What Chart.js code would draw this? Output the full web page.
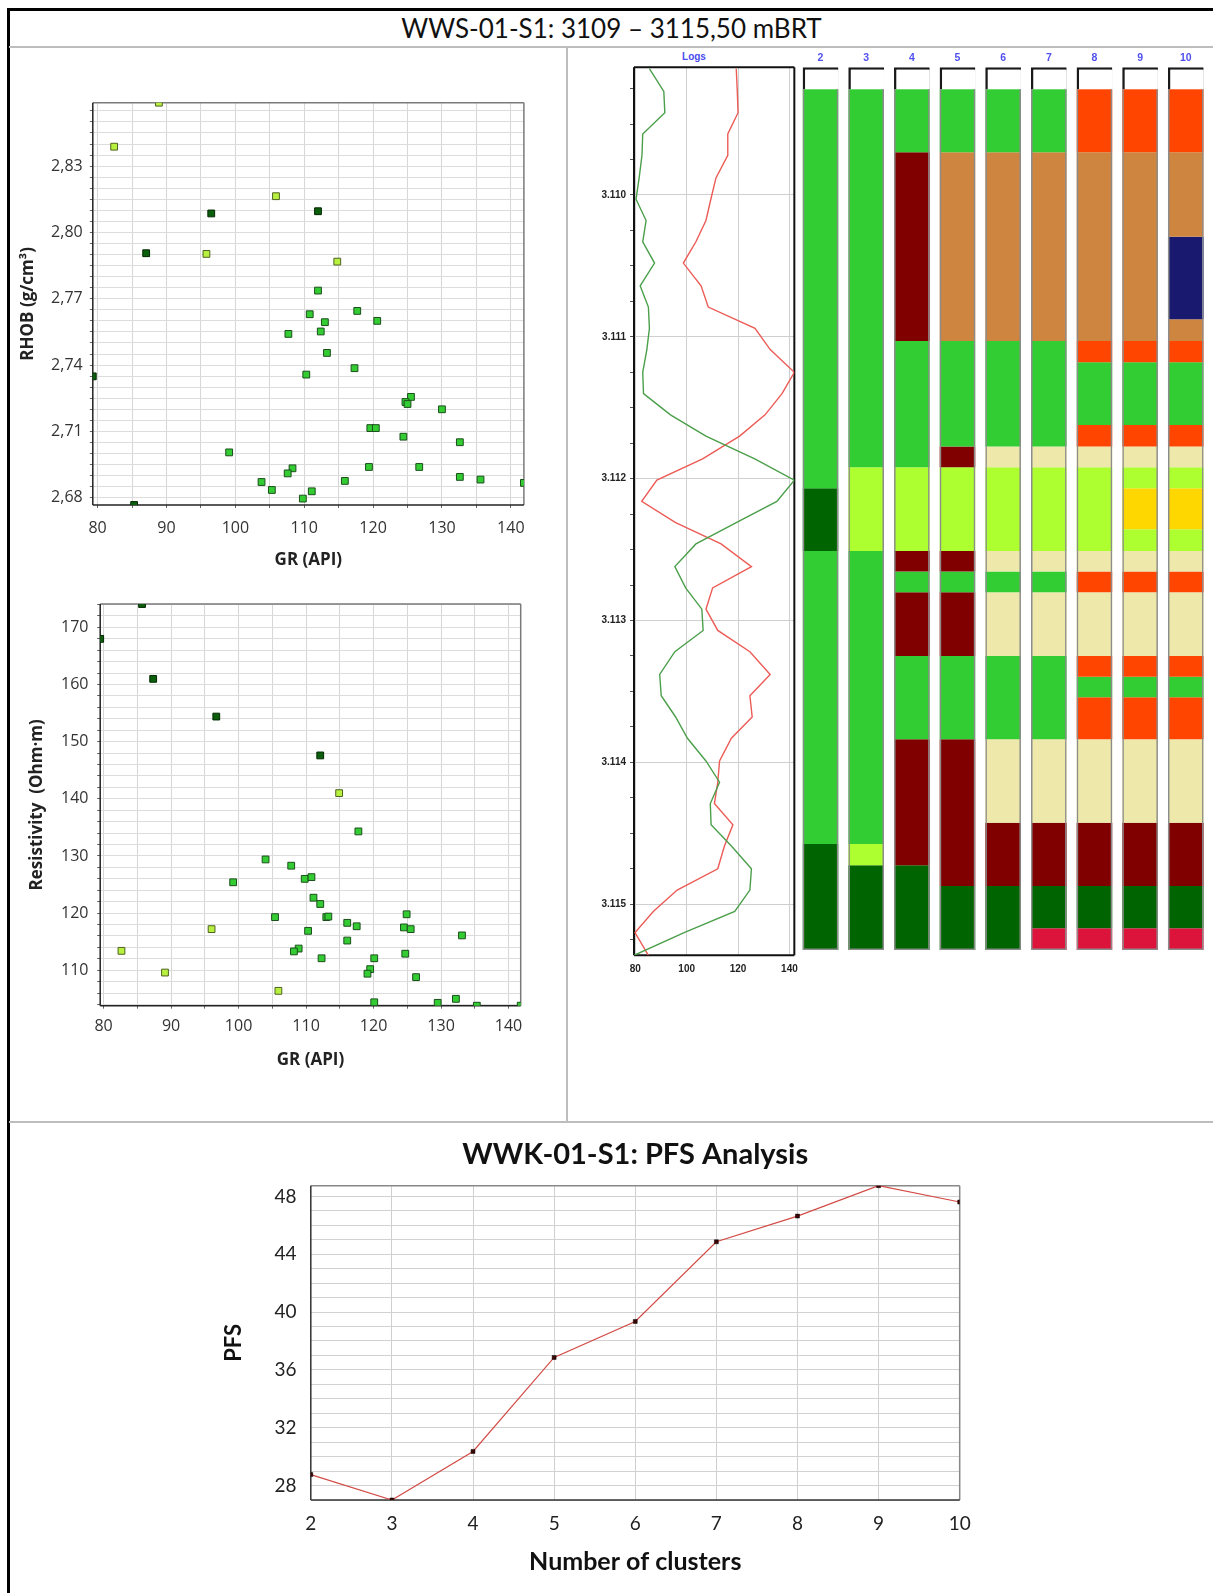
<!DOCTYPE html>
<html>
<head>
<meta charset="utf-8">
<script src="https://cdn.jsdelivr.net/npm/chart.js@4.4.1/dist/chart.umd.min.js"></script>
<style>
  body { margin: 0; background: #fff; }
  #page { position: relative; width: 1213px; height: 1593px; overflow: hidden; font-family: Lato, sans-serif; }
  .rule { position: absolute; }
  canvas { position: absolute; }
  #title { position: absolute; left: 10px; top: 10px; width: 1203px; height: 36px; line-height: 36px;
           text-align: center; font-size: 26px; color: #111; }
  #logs { position: absolute; left: 669px; top: 51px; width: 50px; text-align: center;
          font: bold 10px "Liberation Sans", sans-serif; color: #4a4aee; }
</style>
</head>
<body>
<div id="page">
  <div class="rule" style="left:7px;top:8px;width:1206px;height:3px;background:#000"></div>
  <div class="rule" style="left:7px;top:8px;width:3px;height:1585px;background:#000"></div>
  <div class="rule" style="left:9px;top:46px;width:1204px;height:2px;background:#bdbdbd"></div>
  <div class="rule" style="left:566px;top:47px;width:2px;height:1075px;background:#bdbdbd"></div>
  <div class="rule" style="left:9px;top:1121px;width:1204px;height:2px;background:#bdbdbd"></div>
  <div id="title">WWS-01-S1: 3109 – 3115,50 mBRT</div>
  <div id="logs">Logs</div>

  <canvas id="rhob" width="545" height="520" style="left:10px;top:60px"></canvas>
  <canvas id="res" width="545" height="510" style="left:10px;top:580px"></canvas>
  <canvas id="logtrack" width="226" height="960" style="left:580px;top:40px"></canvas>
  <canvas id="clusters" width="423" height="960" style="left:790px;top:40px"></canvas>
  <canvas id="pfs" width="800" height="468" style="left:200px;top:1125px"></canvas>
</div>
<script>
// ---- scatter data: [GR, value] pairs, one list per cluster ----
const rhobLime = [[112.0,2.7737],[110.8,2.7630],[117.7,2.7645],[113.0,2.7594],[120.6,2.7600],[112.4,2.7552],
  [107.7,2.7541],[113.3,2.7455],[117.3,2.7386],[110.3,2.7357],[125.5,2.7256],[124.7,2.7233],[125.0,2.7224],
  [130.0,2.7200],[119.6,2.7115],[120.4,2.7115],[124.4,2.7076],[132.6,2.7051],[99.1,2.7005],[108.3,2.6933],
  [107.6,2.6910],[119.4,2.6939],[126.7,2.6939],[103.8,2.6871],[115.9,2.6876],[132.6,2.6894],[135.6,2.6882],
  [141.9,2.6867],[105.3,2.6835],[111.1,2.6829],[109.8,2.6796]];
const rhobYellow = [[88.9,2.8587],[82.4,2.8388],[105.9,2.8164],[95.8,2.7903],[114.8,2.7868]];
const rhobDark = [[96.5,2.8086],[112.0,2.8096],[87.05,2.7906],[79.3,2.7349],[85.3,2.6767]];

const resLime = [[117.75,134.3],[104.0,129.4],[107.8,128.3],[109.8,126.0],[110.8,126.3],[99.2,125.4],
  [111.1,122.7],[112.1,121.6],[105.4,119.3],[113.0,119.3],[113.3,119.4],[124.9,119.8],[116.1,118.3],
  [117.5,117.7],[124.5,117.5],[125.5,117.2],[110.3,116.9],[133.1,116.1],[116.1,115.2],[108.9,113.8],
  [108.2,113.3],[124.7,112.9],[112.3,112.1],[120.1,112.1],[119.5,110.2],[119.1,109.4],[126.3,108.8],
  [120.1,104.4],[129.5,104.3],[132.2,105.0],[135.3,103.8],[141.8,103.8]];
const resYellow = [[114.9,141.0],[96.0,117.2],[82.65,113.4],[89.1,109.6],[105.9,106.4]];
const resDark = [[85.7,174.1],[79.5,168.0],[87.35,161.0],[96.7,154.4],[112.1,147.6]];

const grTicks = [80, 90, 100, 110, 120, 130, 140];
const rhobTicks = [2.68, 2.71, 2.74, 2.77, 2.80, 2.83];
const resTicks = [110, 120, 130, 140, 150, 160, 170];

// ---- log track (depth in m) ----
const logDepth = [3109.11, 3109.27, 3109.42, 3109.57, 3109.72, 3109.88, 3110.03, 3110.18, 3110.33, 3110.48,
  3110.64, 3110.79, 3110.94, 3111.09, 3111.25, 3111.40, 3111.55, 3111.70, 3111.86, 3112.01, 3112.16,
  3112.31, 3112.46, 3112.62, 3112.77, 3112.92, 3113.07, 3113.22, 3113.38, 3113.53, 3113.68, 3113.83,
  3113.99, 3114.14, 3114.29, 3114.44, 3114.59, 3114.75, 3114.90, 3115.05, 3115.20, 3115.36];
const logGreen = [85.5, 91.1, 91.5, 82.9, 82.6, 81.5, 80.3, 84.2, 82.9, 87.5, 81.9, 85.1, 85.5, 84.5, 82.9,
  83.2, 93.7, 107.5, 126.5, 141.9, 135.1, 119.3, 103.6, 95.4, 99.6, 105.9, 106.4, 95.4, 89.5, 90.1, 95.7,
  100.3, 107.5, 112.8, 109.2, 109.5, 117.4, 125.2, 124.6, 118.7, 99.0, 79.5];
const logRed = [119.3, 119.7, 120.0, 116.0, 116.0, 111.4, 109.4, 107.5, 103.6, 98.7, 105.6, 108.4, 126.6,
  132.5, 141.9, 137.1, 130.5, 120.6, 106.2, 88.4, 82.5, 95.7, 113.4, 125.2, 110.1, 107.5, 112.1, 124.6,
  132.5, 124.6, 125.5, 117.4, 112.8, 112.1, 110.8, 118.0, 114.7, 112.1, 96.3, 87.1, 79.9, 85.1];
const logGrTicks = [80, 100, 120, 140];
const depthTicks = [3110, 3111, 3112, 3113, 3114, 3115];
const depthTop = 3109.10, depthBottom = 3115.36;

// ---- cluster columns: [top depth, bottom depth, cluster code] ----
const colLabels = ['2', '3', '4', '5', '6', '7', '8', '9', '10'];
const col2 = [[3109.255,3112.068,'A'],[3112.068,3112.510,'B'],[3112.510,3114.575,'A'],[3114.575,3115.322,'B']];
const col3 = [[3109.255,3111.920,'A'],[3111.920,3112.510,'C'],[3112.510,3114.575,'A'],[3114.575,3114.725,'C'],
  [3114.725,3115.322,'B']];
const col4 = [[3109.255,3109.699,'A'],[3109.699,3111.029,'D'],[3111.029,3111.920,'A'],[3111.920,3112.510,'C'],
  [3112.510,3112.655,'D'],[3112.655,3112.801,'A'],[3112.801,3113.250,'D'],[3113.250,3113.837,'A'],
  [3113.837,3114.725,'D'],[3114.725,3115.322,'B']];
const col5 = [[3109.255,3109.699,'A'],[3109.699,3111.029,'E'],[3111.029,3111.774,'A'],[3111.774,3111.920,'D'],
  [3111.920,3112.510,'C'],[3112.510,3112.655,'D'],[3112.655,3112.801,'A'],[3112.801,3113.250,'D'],
  [3113.250,3113.837,'A'],[3113.837,3114.871,'D'],[3114.871,3115.322,'B']];
const col6 = [[3109.255,3109.699,'A'],[3109.699,3111.029,'E'],[3111.029,3111.774,'A'],[3111.774,3111.920,'G'],
  [3111.920,3112.510,'C'],[3112.510,3112.655,'G'],[3112.655,3112.801,'A'],[3112.801,3113.250,'G'],
  [3113.250,3113.837,'A'],[3113.837,3114.425,'G'],[3114.425,3114.871,'D'],[3114.871,3115.322,'B']];
const col7 = [[3109.255,3109.699,'A'],[3109.699,3111.029,'E'],[3111.029,3111.774,'A'],[3111.774,3111.920,'G'],
  [3111.920,3112.510,'C'],[3112.510,3112.655,'G'],[3112.655,3112.801,'A'],[3112.801,3113.250,'G'],
  [3113.250,3113.837,'A'],[3113.837,3114.425,'G'],[3114.425,3114.871,'D'],[3114.871,3115.169,'B'],
  [3115.169,3115.322,'J']];
const col8 = [[3109.255,3109.699,'F'],[3109.699,3111.029,'E'],[3111.029,3111.179,'F'],[3111.179,3111.621,'A'],
  [3111.621,3111.774,'F'],[3111.774,3111.920,'G'],[3111.920,3112.510,'C'],[3112.510,3112.655,'G'],
  [3112.655,3112.801,'F'],[3112.801,3113.250,'G'],[3113.250,3113.396,'F'],[3113.396,3113.541,'A'],
  [3113.541,3113.837,'F'],[3113.837,3114.425,'G'],[3114.425,3114.871,'D'],[3114.871,3115.169,'B'],
  [3115.169,3115.322,'J']];
const col9 = [[3109.255,3109.699,'F'],[3109.699,3111.029,'E'],[3111.029,3111.179,'F'],[3111.179,3111.621,'A'],
  [3111.621,3111.774,'F'],[3111.774,3111.920,'G'],[3111.920,3112.068,'C'],[3112.068,3112.357,'I'],
  [3112.357,3112.510,'C'],[3112.510,3112.655,'G'],[3112.655,3112.801,'F'],[3112.801,3113.250,'G'],
  [3113.250,3113.396,'F'],[3113.396,3113.541,'A'],[3113.541,3113.837,'F'],[3113.837,3114.425,'G'],
  [3114.425,3114.871,'D'],[3114.871,3115.169,'B'],[3115.169,3115.322,'J']];
const col10 = [[3109.255,3109.699,'F'],[3109.699,3110.294,'E'],[3110.294,3110.876,'H'],[3110.876,3111.029,'E'],
  [3111.029,3111.179,'F'],[3111.179,3111.621,'A'],[3111.621,3111.774,'F'],[3111.774,3111.920,'G'],
  [3111.920,3112.068,'C'],[3112.068,3112.357,'I'],[3112.357,3112.510,'C'],[3112.510,3112.655,'G'],
  [3112.655,3112.801,'F'],[3112.801,3113.250,'G'],[3113.250,3113.396,'F'],[3113.396,3113.541,'A'],
  [3113.541,3113.837,'F'],[3113.837,3114.425,'G'],[3114.425,3114.871,'D'],[3114.871,3115.169,'B'],
  [3115.169,3115.322,'J']];

// ---- PFS ----
const clusterCounts = ['2', '3', '4', '5', '6', '7', '8', '9', '10'];
const pfsValues = [28.76, 27.0, 30.36, 36.86, 39.35, 44.86, 46.64, 48.74, 47.61];
const pfsTicks = [28, 32, 36, 40, 44, 48];

const palette = { A: '#32CD32', B: '#006400', C: '#ADFF2F', D: '#800000', E: '#CD853F',
  F: '#FF4500', G: '#EEE8AA', H: '#191970', I: '#FFD700', J: '#DC143C' };

Chart.defaults.animation = false;
Chart.defaults.responsive = false;
Chart.defaults.plugins.legend.display = false;
Chart.defaults.plugins.tooltip.enabled = false;
Chart.defaults.font.family = 'Lato, sans-serif';
Chart.defaults.color = '#222';

const isTick = (list, v) => list.some(t => Math.abs(t - v) < 1e-6);

// plot frame, each side [color, width]
Chart.register({
  id: 'frame',
  beforeDatasetsDraw(chart, args, opts) {
    const { left, right, top, bottom } = chart.chartArea;
    const ctx = chart.ctx;
    const side = (x1, y1, x2, y2, s) => {
      if (!s) return;
      ctx.beginPath();
      ctx.strokeStyle = s[0];
      ctx.lineWidth = s[1];
      ctx.moveTo(x1, y1);
      ctx.lineTo(x2, y2);
      ctx.stroke();
    };
    ctx.save();
    side(left, top, right, top, opts.top);
    side(right, top, right, bottom, opts.right);
    side(left, bottom, right, bottom, opts.bottom);
    side(left, top, left, bottom, opts.left);
    ctx.restore();
  }
});

const scatterFont = { family: '"Open Sans", sans-serif', size: 16 };
const scatterTitleFont = { family: '"Open Sans", sans-serif', size: 17, weight: 'bold' };

function makeScatter(id, groups, yTicks, yStep, yFmt, o) {
  const all = groups.flatMap(g => g.pts);
  const xs = all.map(p => p[0]);
  const ys = all.map(p => p[1]);
  new Chart(document.getElementById(id), {
    type: 'scatter',
    data: {
      datasets: groups.map(g => ({
        data: g.pts.map(p => ({ x: p[0], y: p[1] })),
        pointStyle: 'rect',
        pointRadius: 4.8,
        backgroundColor: g.fill,
        borderColor: g.edge,
        borderWidth: 1,
        clip: 0
      }))
    },
    options: {
      layout: { padding: o.pad },
      plugins: {
        frame: { top: ['#7a7a7a', 1.5], right: ['#7a7a7a', 1.5], bottom: ['#222', 1.5], left: ['#222', 1.5] }
      },
      scales: {
        x: {
          min: Math.min(...xs), max: Math.max(...xs),
          ticks: { stepSize: 5, includeBounds: false, autoSkip: false, maxRotation: 0, padding: o.xPad,
                   color: '#333', font: scatterFont, callback: v => isTick(grTicks, v) ? String(v) : '' },
          grid: { color: '#d6d6d6', tickLength: 3, tickColor: '#666' },
          border: { display: false },
          title: { display: true, text: 'GR (API)', color: '#222', font: scatterTitleFont,
                   padding: { top: 0, bottom: o.xTitle } },
          afterFit: s => { s.height = o.xH; }
        },
        y: {
          min: Math.min(...ys), max: Math.max(...ys),
          ticks: { stepSize: yStep, includeBounds: false, autoSkip: false, padding: o.yPad,
                   color: '#333', font: scatterFont, callback: v => isTick(yTicks, v) ? yFmt(v) : '' },
          grid: { color: '#dcdcdc', tickLength: 3, tickColor: '#666' },
          border: { display: false },
          title: { display: true, text: o.yTitle, color: '#222', font: scatterTitleFont,
                   padding: { top: o.yTitlePad, bottom: 0 } },
          afterFit: s => { s.width = o.yW; }
        }
      }
    }
  });
}

const lime = { fill: '#33cc33', edge: '#1c4f1c' };
const yellow = { fill: '#b8f040', edge: '#4f6220' };
const dark = { fill: '#0b5e0b', edge: '#032803' };

makeScatter('rhob', [
  { pts: rhobLime, ...lime }, { pts: rhobYellow, ...yellow }, { pts: rhobDark, ...dark }
], rhobTicks, 0.005, v => v.toFixed(2).replace('.', ','), {
  pad: { top: 42.7, right: 31.1, left: 0, bottom: 0 },
  xH: 75, xPad: 10.7, xTitle: 9.8,
  yW: 82.8, yPad: 7.1, yTitle: 'RHOB (g/cm³)', yTitlePad: 8.4
});

makeScatter('res', [
  { pts: resLime, ...lime }, { pts: resYellow, ...yellow }, { pts: resDark, ...dark }
], resTicks, 2, v => String(v), {
  pad: { top: 24, right: 34.3, left: 0, bottom: 0 },
  xH: 84.3, xPad: 8.4, xTitle: 19.8,
  yW: 90.2, yPad: 8.7, yTitle: 'Resistivity  (Ohm·m)', yTitlePad: 16.7
});

// ---- log track ----
const smallFont = { family: '"Liberation Sans", sans-serif', size: 10, weight: 'bold' };
const logAll = logGreen.concat(logRed);
new Chart(document.getElementById('logtrack'), {
  type: 'scatter',
  data: {
    datasets: [
      { data: logDepth.map((d, i) => ({ x: logGreen[i], y: d })), showLine: true, pointRadius: 0,
        borderColor: '#4b9f4b', borderWidth: 1.4 },
      { data: logDepth.map((d, i) => ({ x: logRed[i], y: d })), showLine: true, pointRadius: 0,
        borderColor: '#ec5b55', borderWidth: 1.4 }
    ]
  },
  options: {
    layout: { padding: { top: 27.3, right: 6.7, left: 0, bottom: 0 } },
    plugins: { frame: { top: ['#111', 2], right: ['#111', 2], bottom: ['#111', 2], left: ['#111', 2] } },
    scales: {
      x: {
        min: Math.min(...logAll), max: Math.max(...logAll),
        ticks: { stepSize: 20, includeBounds: false, autoSkip: false, maxRotation: 0, padding: 8,
                 font: smallFont, color: '#222', callback: v => isTick(logGrTicks, v) ? String(v) : '' },
        grid: { color: '#cfcfcf', drawTicks: false },
        border: { display: false },
        afterFit: s => { s.height = 44.7; }
      },
      y: {
        reverse: true, min: depthTop, max: depthBottom,
        ticks: { stepSize: 0.25, includeBounds: false, autoSkip: false, padding: 4, font: smallFont, color: '#222',
                 callback: v => isTick(depthTicks, v) ? String(Math.round(v)).replace(/^(\d)(\d{3})$/, '$1.$2') : '' },
        grid: { color: c => (c.tick && isTick(depthTicks, c.tick.value)) ? '#cfcfcf' : 'rgba(0,0,0,0)',
                tickColor: '#555', tickLength: 4 },
        border: { display: false },
        afterFit: s => { s.width = 54; }
      }
    }
  }
});

// ---- cluster columns ----
const columns = [col2, col3, col4, col5, col6, col7, col8, col9, col10];
const segmentSets = [];
columns.forEach((col, i) => {
  col.forEach(([top, bottom, code]) => {
    const data = colLabels.map(() => null);
    data[i] = [top, bottom];
    segmentSets.push({ data, backgroundColor: palette[code], borderWidth: 0, grouped: false });
  });
});
segmentSets.push({
  data: columns.map(col => [depthTop, col[col.length - 1][1]]),
  backgroundColor: 'rgba(0,0,0,0)', borderColor: '#8c8c8c', borderWidth: 1.5,
  borderSkipped: false, grouped: false, order: -1
});
segmentSets.push({
  data: columns.map(col => [depthTop, col[0][0]]),
  backgroundColor: '#fff', borderColor: '#1a1a1a', borderWidth: { top: 2.5, left: 2.5, right: 0, bottom: 0 },
  borderSkipped: false, grouped: false, order: -2
});

new Chart(document.getElementById('clusters'), {
  type: 'bar',
  data: { labels: colLabels, datasets: segmentSets },
  options: {
    datasets: { bar: { barPercentage: 0.78, categoryPercentage: 1.0 } },
    layout: { padding: { top: 0, left: 7.7, right: 4.4, bottom: 44.7 } },
    scales: {
      x: {
        position: 'top',
        ticks: { color: '#5050f0', font: { family: '"Liberation Sans", sans-serif', size: 10.5, weight: 'bold' },
                 padding: 2.5 },
        grid: { display: false, drawTicks: false },
        border: { display: false },
        afterFit: s => { s.height = 27.3; }
      },
      y: { display: false, reverse: true, min: depthTop, max: depthBottom }
    }
  }
});

// ---- PFS analysis ----
new Chart(document.getElementById('pfs'), {
  type: 'line',
  data: {
    labels: clusterCounts,
    datasets: [{
      data: pfsValues,
      borderColor: '#d24b45', borderWidth: 1.2, tension: 0,
      pointStyle: 'rect', pointRadius: 2.8,
      pointBackgroundColor: '#3b0505', pointBorderColor: '#000', pointBorderWidth: 0.5,
      clip: 0
    }]
  },
  options: {
    layout: { padding: { top: 0, left: 0, right: 40.3, bottom: 0 } },
    plugins: {
      title: { display: true, text: 'WWK-01-S1: PFS Analysis', color: '#111', fullSize: false,
               font: { size: 29, weight: 'bold' }, padding: { top: 12.6, bottom: 13.3 } },
      frame: { top: ['#888', 1.5], right: ['#888', 1.5], bottom: ['#333', 1.5], left: ['#333', 1.5] }
    },
    scales: {
      x: {
        offset: false,
        ticks: { font: { size: 19 }, color: '#222', padding: 12.6, maxRotation: 0 },
        grid: { color: '#cfcfcf', drawTicks: false, offset: false },
        border: { display: false },
        title: { display: true, text: 'Number of clusters', color: '#111', font: { size: 25, weight: 'bold' },
                 padding: { top: 0, bottom: 16 } },
        afterFit: s => { s.height = 93; }
      },
      y: {
        min: Math.min(...pfsValues), max: Math.max(...pfsValues),
        ticks: { stepSize: 1, includeBounds: false, autoSkip: false, font: { size: 19 }, color: '#222', padding: 14.2,
                 callback: v => isTick(pfsTicks, v) ? String(v) : '' },
        grid: { color: '#d2d2d2', drawTicks: false },
        border: { display: false },
        title: { display: true, text: 'PFS', color: '#111', font: { size: 22, weight: 'bold' },
                 padding: { top: 20.6, bottom: 0 } },
        afterFit: s => { s.width = 110.8; }
      }
    }
  }
});
</script>
</body>
</html>
